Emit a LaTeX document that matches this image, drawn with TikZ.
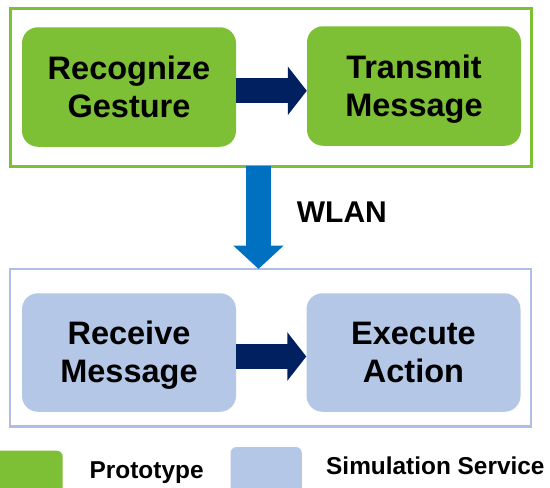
\documentclass[tikz,border=0pt]{standalone}
\usepackage{fontspec}
\setmainfont{Liberation Sans}
\usetikzlibrary{arrows.meta,calc}
\definecolor{pgreen}{HTML}{7DBF35}
\definecolor{sblue}{HTML}{B4C7E7}
\definecolor{fblue}{HTML}{B0BEE6}
\definecolor{navy}{HTML}{002060}
\definecolor{wblue}{HTML}{0070C0}
\newcommand{\twolines}[2]{\rule{0pt}{30pt}#1\\#2\rule[-7.4pt]{0pt}{7.4pt}}
\begin{document}
\begin{tikzpicture}[x=1pt,y=-1pt,
  gbox/.style={fill=pgreen, rounded corners=16pt, minimum width=214pt, minimum height=119.5pt, align=center, font=\fontsize{32.5}{38}\selectfont\bfseries, inner sep=0pt},
  bbox/.style={gbox, fill=sblue, minimum height=118.5pt},
  frame/.style={minimum width=521pt, minimum height=157.7pt, inner sep=0pt},
  bigarrow/.style={draw=navy, line width=25pt, -{Triangle[width=47.6pt,length=19pt]}, shorten <=-0.5pt},
  wlanarrow/.style={draw=wblue, line width=25pt, -{Triangle[width=49pt,length=23.3pt]}},
  legtext/.style={font=\fontsize{24.4}{28}\selectfont\bfseries, anchor=base west, inner sep=0pt}
]
\useasboundingbox (0,0) rectangle (550,488);
\fill[white] (0,0) rectangle (550,488);
% frames
\node[frame, draw=pgreen, line width=3pt] (top) at (270.5,87.2) {};
\node[frame, draw=fblue, line width=2.5pt] (bot) at (270.5,347.8) {};
% boxes
\node[gbox] (rg) at (129,87) {\twolines{Recognize}{Gesture}};
\node[gbox] (tm) at (414,86) {\twolines{Transmit}{Message}};
\node[bbox] (rm) at (129,352.5) {\twolines{Receive}{Message}};
\node[bbox] (ea) at (413.5,352.5) {\twolines{Execute}{Action}};
% arrows
\draw[bigarrow] ($(rg.east)+(0,3.8)$) -- ($(tm.west)+(0,4.8)$);
\draw[bigarrow] ($(rm.east)+(0,4)$) -- ($(ea.west)+(0,4)$);
\coordinate (wa) at ($(top.south)+(-12,-1.5)$);
\coordinate (wb) at ($(bot.north)+(-12,1.2)$);
\draw[wlanarrow] (wa) -- (wb);
\node[font=\fontsize{30}{34}\selectfont\bfseries, anchor=base west, inner sep=0pt] (wlan) at (296.7,222.7) {WLAN};
% legend
\begin{scope}
\clip (0,0) rectangle (550,488);
\fill[pgreen, rounded corners=6pt] (-10,450.7) rectangle (62.7,500);
\fill[sblue, rounded corners=6pt] (230.5,447) rectangle (301.8,500);
\end{scope}
\node[legtext] (lp) at (89.5,478) {Prototype};
\node[legtext] (ls) at (326,474.3) {Simulation Service};
\end{tikzpicture}
\end{document}
